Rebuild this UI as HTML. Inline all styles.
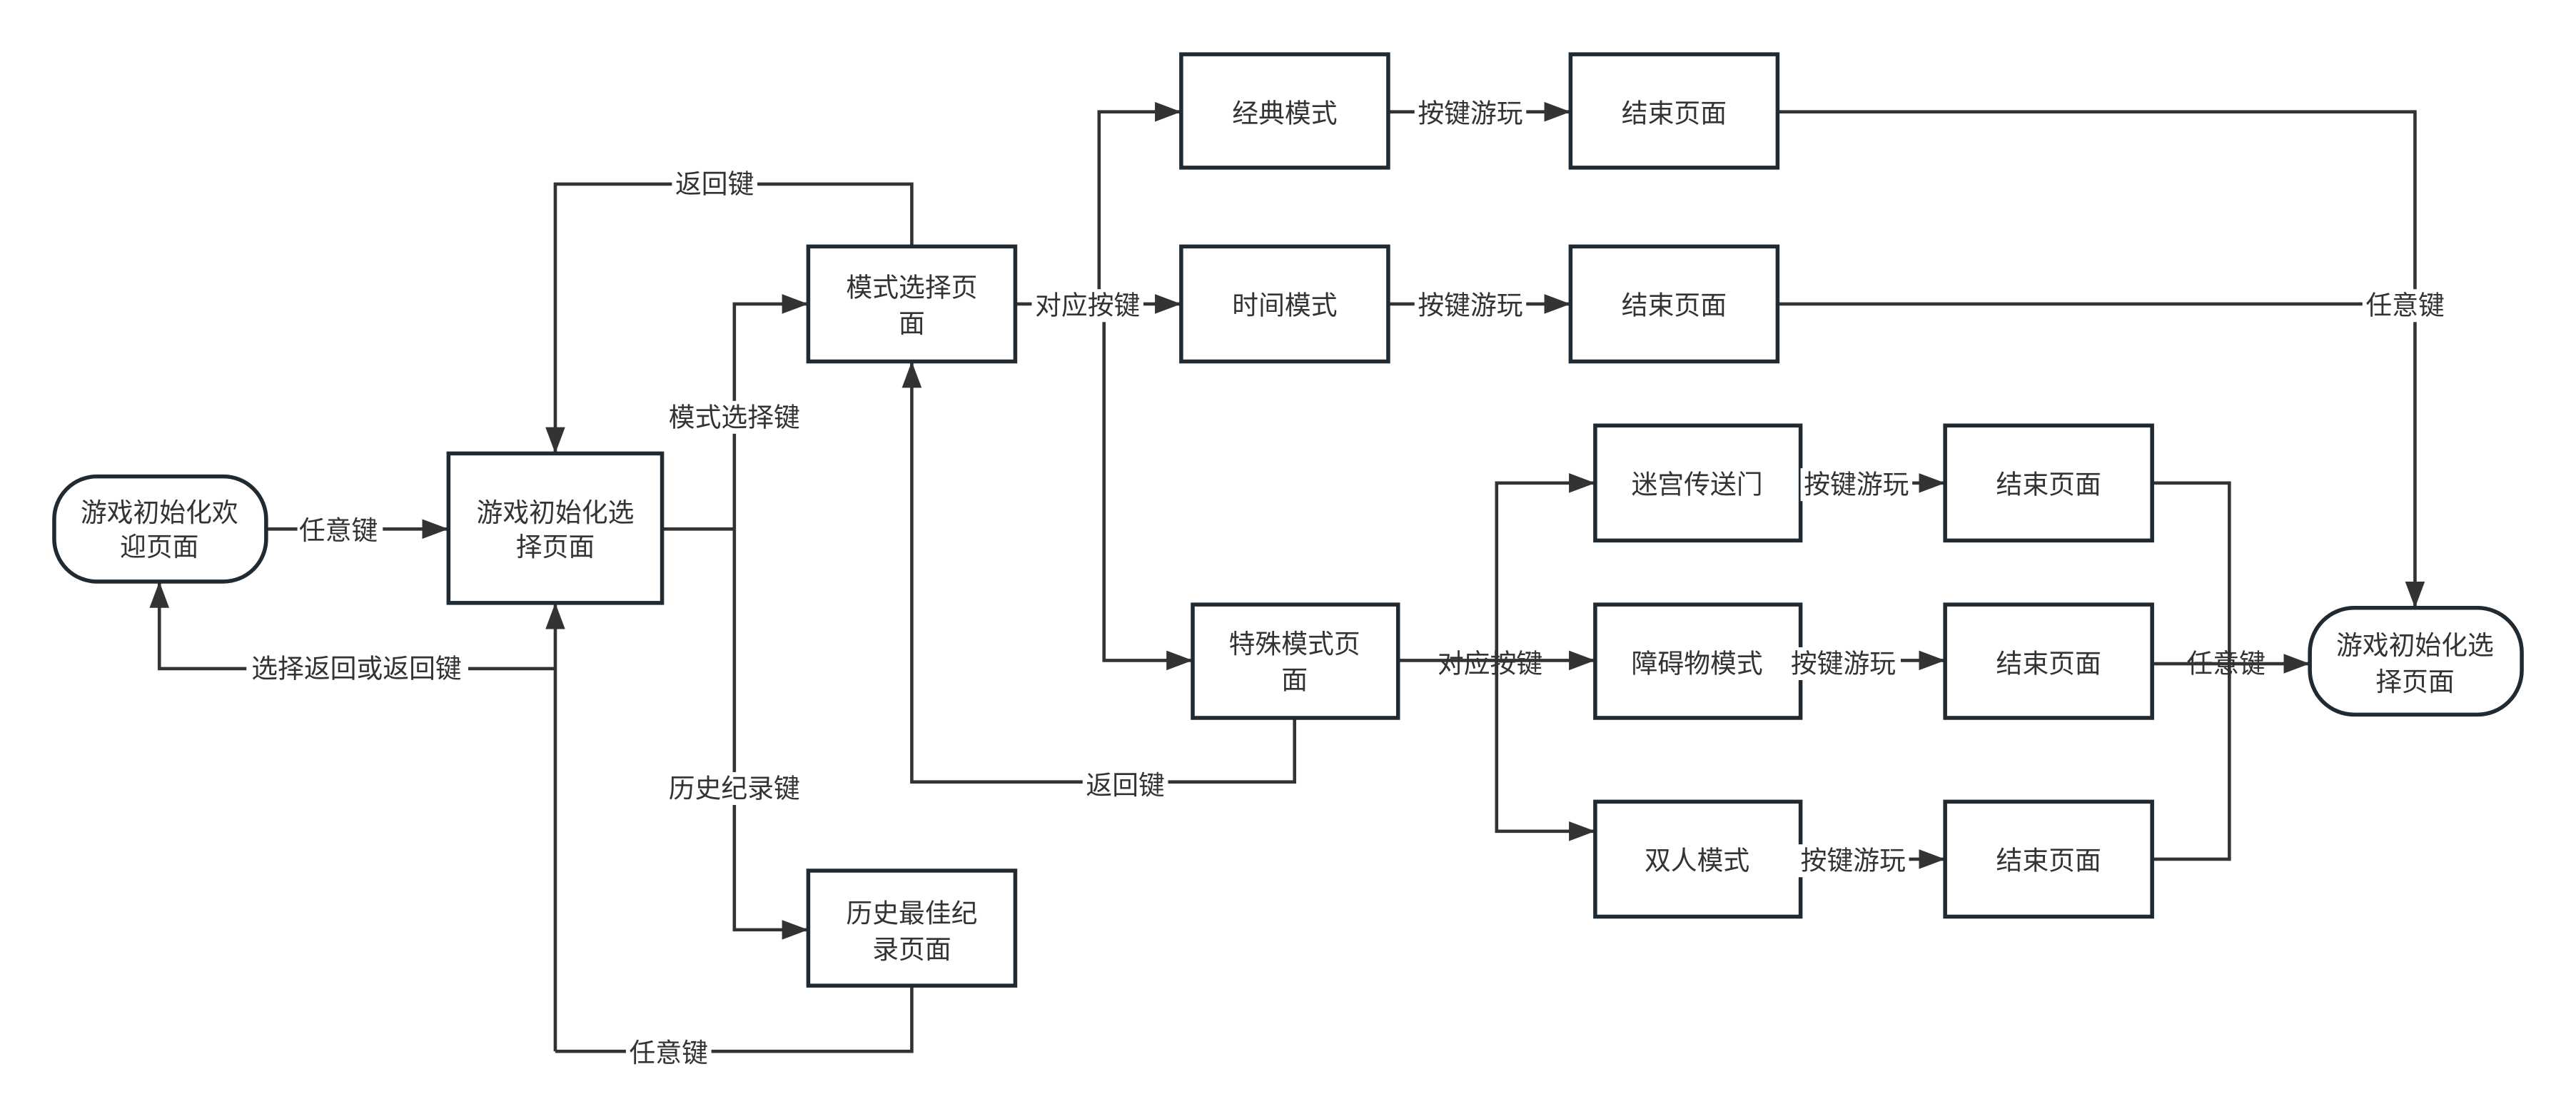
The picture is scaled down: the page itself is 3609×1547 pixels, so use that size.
<!DOCTYPE html>
<html><head><meta charset="utf-8"><style>
html,body{margin:0;padding:0;background:#fff;}
svg{display:block;}
text{font-family:"Liberation Sans","Noto Sans CJK SC",sans-serif;font-size:16px;fill:#333;text-anchor:middle;dominant-baseline:central;}
.b{fill:#fff;stroke:#1f2a33;stroke-width:2.4;}
.l{fill:none;stroke:#333;stroke-width:2;}
.bg{fill:#fff;}
</style></head><body>
<svg width="3609" height="1547" viewBox="0 0 1568 672" xmlns="http://www.w3.org/2000/svg">
<defs><marker id="a" markerWidth="16" markerHeight="12" refX="15" refY="6" orient="auto" markerUnits="userSpaceOnUse"><path d="M0,0 L16,6 L0,12 Z" fill="#333"/></marker></defs>

<!-- connectors -->
<path class="l" d="M162,322 H272" marker-end="url(#a)"/>
<path class="l" d="M338,407 H97 V355" marker-end="url(#a)"/>
<path class="l" d="M338,640 V368" marker-end="url(#a)"/>
<path class="l" d="M403,322 H447"/>
<path class="l" d="M447,322 V185 H491" marker-end="url(#a)"/>
<path class="l" d="M447,322 V566 H491" marker-end="url(#a)"/>
<path class="l" d="M555,150 V112 H338 V275" marker-end="url(#a)"/>
<path class="l" d="M555,600 V640 H338"/>
<path class="l" d="M618,185 H718" marker-end="url(#a)"/>
<path class="l" d="M669,185 V68 H718" marker-end="url(#a)"/>
<path class="l" d="M672,185 V402 H725" marker-end="url(#a)"/>
<path class="l" d="M788,437 V476 H555 V221" marker-end="url(#a)"/>
<path class="l" d="M845,68 H955" marker-end="url(#a)"/>
<path class="l" d="M845,185 H955" marker-end="url(#a)"/>
<path class="l" d="M1082,68 H1470 V369" marker-end="url(#a)"/>
<path class="l" d="M1082,185 H1470"/>
<path class="l" d="M851,402 H970" marker-end="url(#a)"/>
<path class="l" d="M911,402 V294 H970" marker-end="url(#a)"/>
<path class="l" d="M911,402 V506 H970" marker-end="url(#a)"/>
<path class="l" d="M1096,294 H1183" marker-end="url(#a)"/>
<path class="l" d="M1096,402 H1183" marker-end="url(#a)"/>
<path class="l" d="M1096,523 H1183" marker-end="url(#a)"/>
<path class="l" d="M1310,294 H1357 V523 H1310"/>
<path class="l" d="M1310,404 H1405" marker-end="url(#a)"/>

<!-- nodes -->
<rect class="b" x="33" y="290" width="129" height="64" rx="26"/>
<text x="97" y="312">游戏初始化欢</text><text x="97" y="333">迎页面</text>
<rect class="b" x="273" y="276" width="130" height="91"/>
<text x="338" y="312">游戏初始化选</text><text x="338" y="333">择页面</text>
<rect class="b" x="492" y="150" width="126" height="70"/>
<text x="555" y="175">模式选择页</text><text x="555" y="197">面</text>
<rect class="b" x="492" y="530" width="126" height="70"/>
<text x="555" y="556">历史最佳纪</text><text x="555" y="578">录页面</text>
<rect class="b" x="719" y="33" width="126" height="69"/><text x="782" y="69">经典模式</text>
<rect class="b" x="719" y="150" width="126" height="70"/><text x="782" y="186">时间模式</text>
<rect class="b" x="956" y="33" width="126" height="69"/><text x="1019" y="69">结束页面</text>
<rect class="b" x="956" y="150" width="126" height="70"/><text x="1019" y="186">结束页面</text>
<rect class="b" x="726" y="368" width="125" height="69"/>
<text x="788" y="392">特殊模式页</text><text x="788" y="414">面</text>
<rect class="b" x="971" y="259" width="125" height="70"/><text x="1033" y="295">迷宫传送门</text>
<rect class="b" x="971" y="368" width="125" height="69"/><text x="1033" y="404">障碍物模式</text>
<rect class="b" x="971" y="488" width="125" height="70"/><text x="1033" y="524">双人模式</text>
<rect class="b" x="1184" y="259" width="126" height="70"/><text x="1247" y="295">结束页面</text>
<rect class="b" x="1184" y="368" width="126" height="69"/><text x="1247" y="404">结束页面</text>
<rect class="b" x="1184" y="488" width="126" height="70"/><text x="1247" y="524">结束页面</text>
<rect class="b" x="1406" y="370" width="129" height="65" rx="27"/>
<text x="1470" y="393">游戏初始化选</text><text x="1470" y="415">择页面</text>

<!-- labels -->
<rect class="bg" x="181" y="313" width="52" height="20"/><text x="206" y="323">任意键</text>
<rect class="bg" x="150" y="397" width="135" height="20"/><text x="217" y="407">选择返回或返回键</text>
<rect class="bg" x="409" y="102" width="52" height="20"/><text x="435" y="112">返回键</text>
<rect class="bg" x="405" y="244" width="85" height="20"/><text x="447" y="254">模式选择键</text>
<rect class="bg" x="405" y="470" width="85" height="20"/><text x="447" y="480">历史纪录键</text>
<rect class="bg" x="381" y="631" width="52" height="20"/><text x="407" y="641">任意键</text>
<rect class="bg" x="628" y="176" width="68" height="20"/><text x="662" y="186">对应按键</text>
<rect class="bg" x="659" y="468" width="52" height="20"/><text x="685" y="478">返回键</text>
<rect class="bg" x="861" y="59" width="68" height="20"/><text x="895" y="69">按键游玩</text>
<rect class="bg" x="861" y="176" width="68" height="20"/><text x="895" y="186">按键游玩</text>
<rect class="bg" x="1438" y="176" width="52" height="20"/><text x="1464" y="186">任意键</text>
<text x="907" y="404">对应按键</text>
<rect class="bg" x="1096" y="285" width="68" height="20"/><text x="1130" y="295">按键游玩</text>
<rect class="bg" x="1089" y="394" width="68" height="20"/><text x="1122" y="404">按键游玩</text>
<rect class="bg" x="1094" y="514" width="68" height="20"/><text x="1128" y="524">按键游玩</text>
<text x="1355" y="404">任意键</text>
</svg>
</body></html>
